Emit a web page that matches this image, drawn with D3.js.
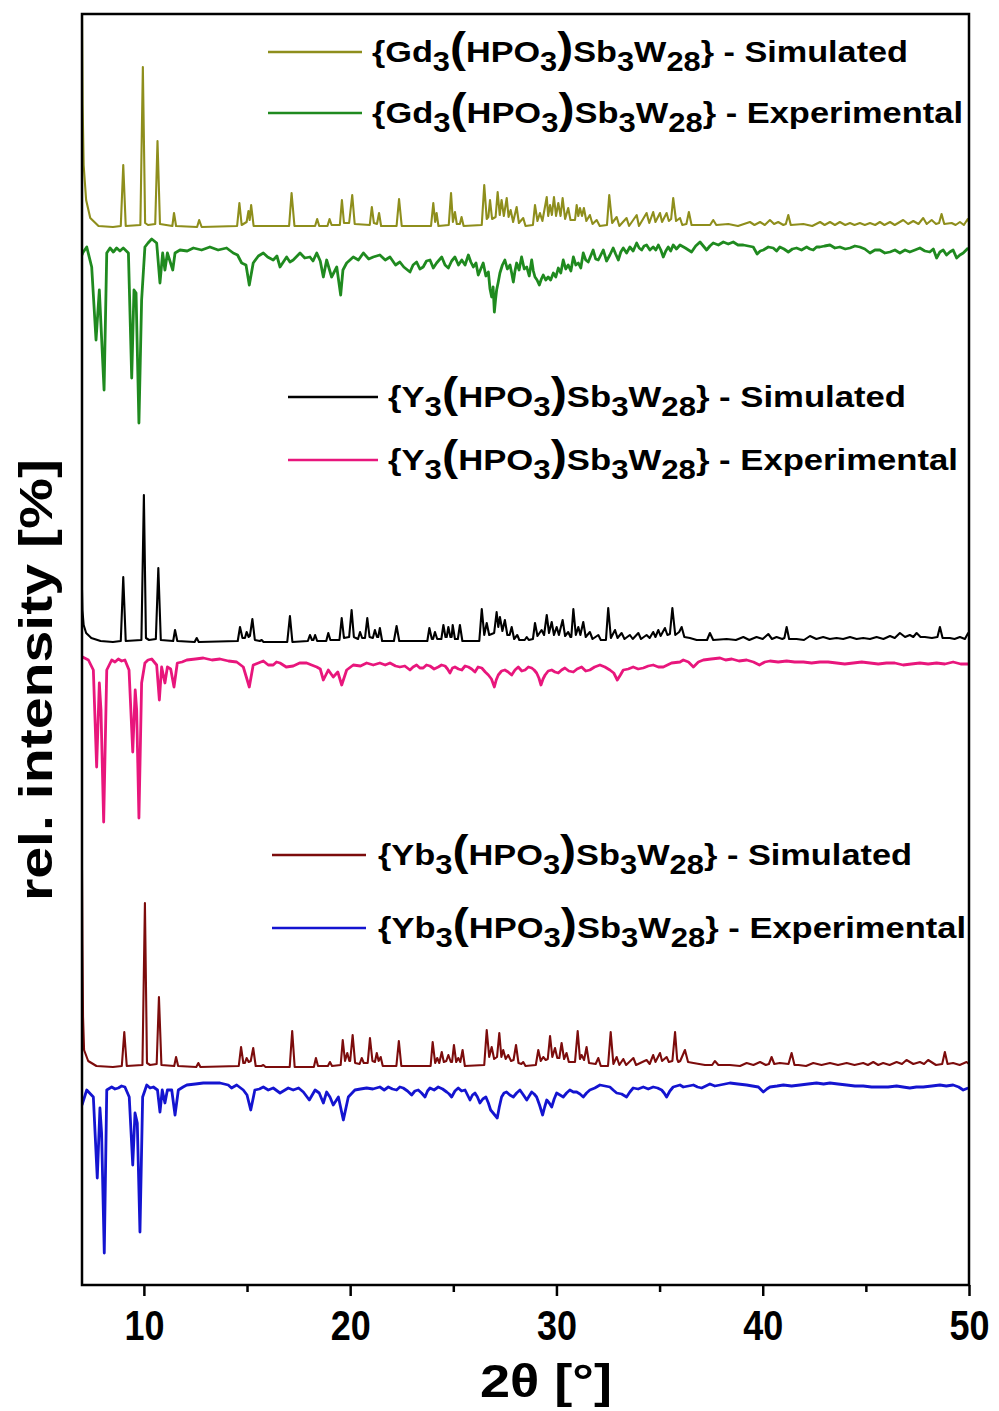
<!DOCTYPE html>
<html lang="en">
<head>
<meta charset="UTF-8">
<title>PXRD</title>
<style>
  body { margin: 0; background: #fff; }
  svg text { font-family: "Liberation Sans Narrow", "Liberation Sans", Arial, sans-serif; font-weight: bold; fill: #000; }
</style>
</head>
<body>
<div id="chart"></div>
<script src="https://cdnjs.cloudflare.com/ajax/libs/d3/7.8.5/d3.min.js"></script>
<script>
// [2theta, stacked rel. intensity]
const gdSim = [[7.0,127.1],[7.03,118],[7.08,112],[7.2,108.5],[7.4,106.7],[7.8,105.9],[8.5,105.8],
[8.88,105.9],[9.0,112.0],[9.12,105.9],[9.83,106.0],[9.95,121.8],[10.06,106.2],[10.2,106.0],[10.55,106.1],[10.66,114.4],[10.78,106.1],
[11.38,105.9],[11.46,107.2],[11.56,105.9],[12.58,105.8],[12.68,106.5],[12.8,105.8],
[14.52,105.9],[14.63,108.2],[14.74,106.0],[14.98,106.3],[15.07,107.4],[15.13,106.5],[15.2,108.0],[15.32,105.9],
[17.04,105.9],[17.16,109.2],[17.3,105.9],[18.3,105.9],[18.4,106.6],[18.5,105.9],[18.9,105.9],[19.0,106.6],[19.1,106.0],
[19.5,106.0],[19.6,108.5],[19.7,106.2],[19.95,106.2],[20.1,109.0],[20.22,106.1],
[20.95,106.0],[21.05,107.8],[21.15,106.2],[21.3,106.1],[21.4,107.2],[21.5,105.9],
[22.25,105.9],[22.37,108.6],[22.5,105.9],[23.92,105.9],[24.03,108.2],[24.12,106.3],[24.19,107.2],[24.28,105.9],
[24.78,106.0],[24.89,109.2],[24.98,106.3],[25.08,107.3],[25.17,106.1],[25.32,106.1],[25.4,106.8],[25.5,105.9],
[26.38,106.0],[26.5,110.0],[26.62,106.6],[26.7,106.8],[26.78,108.5],[26.88,106.6],[27.05,106.8],[27.15,109.3],[27.25,107.0],[27.34,108.5],[27.45,106.9],[27.59,108.7],[27.68,106.8],[27.78,107.5],[27.9,106.3],[28.07,107.8],[28.18,106.2],[28.39,106.7],[28.5,105.9],
[28.86,106.0],[28.96,108.0],[29.08,106.4],[29.2,107.2],[29.32,106.4],[29.53,108.8],[29.6,106.9],[29.69,108.0],[29.78,107.0],[29.88,108.8],[29.98,106.9],[30.09,108.2],[30.2,106.9],[30.3,108.7],[30.42,106.6],[30.57,107.7],[30.68,106.5],[30.9,106.5],[30.98,108.0],[31.06,106.9],[31.14,107.7],[31.24,106.9],[31.33,107.7],[31.45,106.4],[31.62,107.0],[31.75,106.1],[31.95,106.5],[32.1,105.9],
[32.45,106.0],[32.56,109.0],[32.7,106.2],[32.92,106.8],[33.05,105.9],[33.4,106.7],[33.52,105.9],[33.89,107.0],[34.0,105.9],[34.37,107.2],[34.5,106.2],[34.69,107.3],[34.8,106.3],[35.02,107.2],[35.12,106.3],[35.34,107.2],[35.45,106.4],[35.56,106.6],[35.66,108.7],[35.8,106.4],[35.99,106.7],[36.1,106.0],[36.3,106.1],[36.42,107.3],[36.55,106.0],[36.96,106.0],[37.45,106.0],[37.6,106.5],[37.75,106.0],
[38.33,106.1],[38.8,105.9],[39.38,106.3],[39.6,106.0],[39.87,106.3],[40.1,106.0],[40.35,106.5],[40.55,106.1],[40.75,106.3],[41.0,106.0],[41.12,106.1],[41.24,107.0],[41.36,106.0],[41.97,106.1],[42.4,105.9],[42.78,106.3],[43.0,106.0],[43.26,106.3],[43.5,106.0],[43.74,106.3],[44.0,106.0],[44.23,106.2],[44.45,106.0],[44.71,106.2],[44.95,106.0],[45.2,106.2],[45.45,106.0],[45.68,106.3],[45.9,106.0],[46.17,106.3],[46.4,106.0],[46.81,106.5],[47.05,106.1],[47.3,106.4],[47.55,106.1],[47.78,106.7],[47.95,106.1],[48.19,106.5],[48.4,106.1],[48.55,106.2],[48.67,107.1],[48.8,106.1],[49.16,106.2],[49.35,106.0],[49.56,106.3],[49.75,106.0],[49.94,106.6],[50.0,106.3]];

const gdExp = [[7.0,103.0],[7.03,103.2],[7.23,103.8],[7.47,101.8],[7.68,94.5],[7.84,99.5],[8.07,89.5],[8.2,103.2],[8.36,103.7],[8.52,103.3],[8.68,103.7],[8.84,103.4],[9.0,103.7],[9.25,103.2],[9.41,90.7],[9.52,99.5],[9.62,99.2],[9.76,86.2],[9.89,98.5],[10.05,103.8],[10.2,104.2],[10.38,104.6],[10.62,104.2],[10.78,100.2],[10.91,103.2],[11.02,101.5],[11.14,103.2],[11.4,101.5],[11.51,103.2],[11.75,103.5],[12.1,103.4],[12.4,103.7],[12.8,103.5],[13.2,103.8],[13.6,103.5],[14.01,103.7],[14.33,103.2],[14.54,103.0],[14.74,102.2],[14.95,102.0],[15.11,100.0],[15.3,102.2],[15.55,102.9],[15.79,103.2],[16.0,102.8],[16.27,102.5],[16.45,102.9],[16.6,101.8],[16.92,102.8],[17.08,102.3],[17.24,102.5],[17.57,103.2],[17.8,102.7],[18.05,102.8],[18.2,102.4],[18.38,103.2],[18.55,102.4],[18.7,100.8],[18.86,102.5],[19.1,100.8],[19.35,101.8],[19.54,99.0],[19.65,101.5],[19.83,102.2],[20.15,102.8],[20.4,102.5],[20.64,103.2],[20.9,102.6],[21.12,102.8],[21.44,103.0],[21.7,102.5],[21.93,102.8],[22.2,102.0],[22.41,102.3],[22.6,101.8],[22.9,101.3],[23.05,102.0],[23.22,102.3],[23.38,101.6],[23.54,101.8],[23.7,102.4],[23.87,102.5],[24.03,101.7],[24.19,102.2],[24.44,102.8],[24.6,102.0],[24.76,101.7],[24.92,102.4],[25.08,102.8],[25.25,102.0],[25.41,102.5],[25.57,102.0],[25.73,103.0],[25.85,102.3],[25.97,101.8],[26.1,102.2],[26.21,101.0],[26.33,101.6],[26.45,102.2],[26.58,100.9],[26.7,101.3],[26.78,99.6],[26.86,98.8],[26.93,99.8],[26.99,97.3],[27.05,98.6],[27.1,99.5],[27.18,100.3],[27.26,101.2],[27.38,102.0],[27.5,102.5],[27.62,101.6],[27.75,102.0],[27.83,101.2],[27.91,100.3],[27.99,101.4],[28.07,102.2],[28.19,101.5],[28.31,102.8],[28.44,101.6],[28.56,101.8],[28.68,100.9],[28.8,102.5],[28.88,101.4],[28.96,100.8],[29.06,100.5],[29.17,100.0],[29.27,100.6],[29.36,101.0],[29.48,100.5],[29.6,100.8],[29.72,100.5],[29.85,101.2],[29.97,100.8],[30.09,101.7],[30.21,101.2],[30.33,102.5],[30.45,101.6],[30.57,102.0],[30.7,101.4],[30.82,102.8],[30.94,102.0],[31.06,102.2],[31.18,101.7],[31.3,103.2],[31.42,102.5],[31.54,102.3],[31.66,102.9],[31.78,103.5],[31.9,102.6],[32.03,102.5],[32.15,103.0],[32.27,103.5],[32.43,102.4],[32.59,103.0],[32.75,103.7],[32.87,103.1],[33.0,102.5],[33.12,103.3],[33.24,103.7],[33.4,103.2],[33.56,103.8],[33.72,103.4],[33.89,104.2],[34.01,103.7],[34.13,103.5],[34.25,103.9],[34.37,104.0],[34.53,103.5],[34.69,103.8],[34.82,103.5],[34.94,104.0],[35.06,103.5],[35.18,102.8],[35.3,103.4],[35.42,103.8],[35.54,103.4],[35.66,104.0],[35.82,103.6],[35.99,104.0],[36.25,103.7],[36.55,103.3],[36.75,103.9],[36.96,104.3],[37.12,103.9],[37.28,103.5],[37.44,103.9],[37.6,104.2],[37.85,104.0],[38.09,104.3],[38.33,104.1],[38.57,104.3],[38.8,104.0],[39.06,104.0],[39.3,103.9],[39.54,103.8],[39.73,103.1],[39.88,103.4],[40.03,103.5],[40.27,103.8],[40.51,103.7],[40.67,103.4],[40.83,103.8],[41.03,103.6],[41.24,103.3],[41.44,103.6],[41.64,103.7],[41.88,103.5],[42.13,103.8],[42.29,103.6],[42.45,103.5],[42.61,103.8],[42.77,103.8],[43.0,103.9],[43.26,104.0],[43.5,103.7],[43.74,103.8],[44.0,103.6],[44.23,103.7],[44.47,103.9],[44.71,103.8],[44.95,103.6],[45.2,103.2],[45.44,103.5],[45.68,103.5],[45.92,103.2],[46.17,103.3],[46.41,103.5],[46.65,103.2],[46.9,103.5],[47.13,103.3],[47.38,103.5],[47.62,103.7],[47.86,103.4],[48.1,103.3],[48.27,103.6],[48.43,102.7],[48.59,103.3],[48.75,103.5],[48.91,103.0],[49.07,103.3],[49.23,103.5],[49.4,102.7],[49.56,103.0],[49.72,103.2],[49.96,103.7]];

const ySim = [[7.0,69.5],[7.02,67.5],[7.08,66.0],[7.2,65.2],[7.45,64.7],[7.9,64.4],[8.5,64.3],
[8.88,64.4],[9.0,70.8],[9.12,64.4],[9.88,64.5],[10.0,79.0],[10.1,64.7],[10.25,64.5],[10.58,64.6],[10.7,71.7],[10.82,64.5],
[11.42,64.4],[11.51,65.5],[11.62,64.4],[12.46,64.3],[12.56,64.7],[12.66,64.3],
[14.55,64.4],[14.66,65.8],[14.78,64.7],[14.9,64.7],[14.98,65.3],[15.08,64.8],[15.14,64.9],[15.26,66.6],[15.38,64.5],[15.62,64.4],[15.71,64.5],[15.8,64.3],
[16.95,64.3],[17.08,66.9],[17.2,64.3],[17.95,64.4],[18.05,65.0],[18.15,64.5],[18.22,64.5],[18.3,65.0],[18.4,64.4],
[18.84,64.4],[18.94,65.2],[19.04,64.5],[19.48,64.5],[19.59,66.7],[19.7,64.7],[19.95,64.8],[20.07,67.5],[20.18,64.8],[20.38,64.6],[20.48,65.3],[20.58,64.7],[20.72,64.7],[20.83,66.7],[20.94,64.8],[21.1,64.7],[21.2,65.5],[21.3,64.8],[21.36,64.8],[21.44,65.7],[21.55,64.4],
[22.12,64.4],[22.25,65.9],[22.38,64.4],[23.74,64.4],[23.84,65.7],[23.96,64.6],[24.02,64.6],[24.11,65.3],[24.22,64.6],[24.42,64.6],[24.52,66.0],[24.62,64.8],[24.68,64.8],[24.76,65.8],[24.86,64.8],[24.92,64.8],[24.97,66.0],[25.08,64.6],[25.22,64.6],[25.32,66.0],[25.44,64.4],
[26.26,64.4],[26.38,67.6],[26.5,65.0],[26.62,66.2],[26.74,65.0],[26.98,65.2],[27.1,67.3],[27.18,65.8],[27.26,66.8],[27.38,65.4],[27.5,66.5],[27.62,65.0],[27.73,65.0],[27.83,65.8],[27.95,64.6],[28.1,65.0],[28.2,64.5],[28.46,64.5],[28.56,64.8],[28.66,64.5],
[28.86,64.6],[28.96,66.2],[29.08,64.9],[29.28,65.5],[29.4,65.0],[29.53,67.0],[29.64,65.2],[29.77,66.3],[29.88,65.0],[30.01,65.8],[30.12,65.0],[30.3,66.5],[30.42,64.9],[30.57,65.3],[30.68,64.8],[30.72,64.8],[30.82,67.6],[30.94,65.0],[31.06,65.8],[31.16,65.0],[31.3,66.3],[31.42,64.8],[31.62,65.3],[31.75,64.6],[32.03,65.0],[32.15,64.5],
[32.4,64.5],[32.51,67.7],[32.64,64.7],[32.84,65.5],[32.96,64.7],[33.16,65.2],[33.3,64.6],[33.56,65.0],[33.7,64.6],[33.97,65.2],[34.1,64.6],[34.37,65.0],[34.52,64.7],[34.69,65.3],[34.8,64.8],[34.94,65.5],[35.05,64.9],[35.26,65.7],[35.38,65.0],[35.5,65.1],[35.62,67.7],[35.76,65.0],[35.95,65.3],[36.07,65.8],[36.2,64.8],[36.47,64.7],[36.8,64.5],
[37.3,64.5],[37.44,65.2],[37.6,64.5],[38.25,64.6],[38.7,64.5],[39.06,64.8],[39.35,64.5],[39.7,64.8],[40.0,64.6],[40.27,65.1],[40.45,64.6],[40.67,64.8],[40.95,64.6],[41.05,64.7],[41.16,65.8],[41.28,64.6],[41.64,64.6],[42.0,64.5],[42.29,64.9],[42.6,64.6],[42.93,64.8],[43.25,64.6],[43.58,64.7],[43.9,64.6],[44.23,64.8],[44.55,64.6],[44.87,64.7],[45.2,64.6],[45.52,64.8],[45.85,64.6],[46.17,64.9],[46.4,64.7],[46.65,65.2],[46.9,64.8],[47.13,65.0],[47.3,64.8],[47.46,65.2],[47.65,64.8],[47.86,64.8],[48.2,64.7],[48.47,64.8],[48.59,65.8],[48.72,64.7],[49.07,64.7],[49.3,64.6],[49.56,64.8],[49.8,64.6],[49.96,65.2],[50.0,65.0]];

const yExp = [[7.0,62.7],[7.03,62.8],[7.31,62.5],[7.55,61.5],[7.71,51.8],[7.84,60.2],[7.92,57.5],[8.05,46.3],[8.2,61.5],[8.44,62.5],[8.6,62.3],[8.76,62.6],[8.92,62.4],[9.08,62.5],[9.28,61.5],[9.46,53.3],[9.58,59.5],[9.65,57.5],[9.76,46.7],[9.89,60.2],[10.05,62.2],[10.2,62.5],[10.38,62.6],[10.62,62.0],[10.75,58.5],[10.86,61.8],[11.02,60.2],[11.14,61.8],[11.3,61.6],[11.46,59.8],[11.62,62.2],[11.85,62.3],[12.08,62.5],[12.5,62.6],[12.88,62.7],[13.3,62.5],[13.69,62.6],[14.1,62.4],[14.5,62.3],[14.82,61.8],[15.11,59.8],[15.3,62.0],[15.55,62.2],[15.79,62.4],[16.03,62.0],[16.27,62.0],[16.43,62.3],[16.6,62.2],[16.9,61.8],[17.24,61.9],[17.55,62.2],[17.89,62.2],[18.13,62.0],[18.38,61.8],[18.55,61.6],[18.7,60.5],[18.94,61.5],[19.18,60.8],[19.4,61.3],[19.59,60.0],[19.83,61.5],[20.15,62.0],[20.5,61.9],[20.8,62.2],[21.12,62.0],[21.44,62.2],[21.7,62.0],[21.93,62.2],[22.2,61.9],[22.41,61.8],[22.65,61.9],[22.9,61.5],[23.05,61.8],[23.22,62.0],[23.38,61.7],[23.54,61.7],[23.7,62.0],[23.87,61.9],[24.07,61.6],[24.27,61.8],[24.43,62.0],[24.6,61.9],[24.72,61.6],[24.84,61.2],[24.96,61.7],[25.08,61.8],[25.25,61.6],[25.41,61.5],[25.57,61.9],[25.73,61.8],[25.89,61.6],[26.05,61.3],[26.2,61.8],[26.38,61.7],[26.55,61.3],[26.7,61.0],[26.85,60.6],[26.99,59.8],[27.08,60.5],[27.18,61.0],[27.34,61.4],[27.5,61.5],[27.66,61.3],[27.83,61.0],[27.99,61.5],[28.15,61.8],[28.32,61.4],[28.48,61.5],[28.64,61.8],[28.8,61.7],[28.92,61.5],[29.04,61.2],[29.15,60.7],[29.25,60.0],[29.35,60.6],[29.45,61.0],[29.6,61.4],[29.77,61.5],[29.93,61.3],[30.09,61.2],[30.25,61.5],[30.41,61.7],[30.6,61.4],[30.82,61.3],[31.0,61.6],[31.22,61.8],[31.42,61.4],[31.62,61.5],[31.85,61.8],[32.11,62.0],[32.35,61.8],[32.59,61.5],[32.78,61.2],[32.95,60.5],[33.1,61.0],[33.24,61.5],[33.48,61.6],[33.72,61.8],[33.96,61.6],[34.21,61.7],[34.45,61.9],[34.69,62.0],[34.94,61.8],[35.18,61.8],[35.38,62.0],[35.58,62.2],[35.99,62.3],[36.15,62.5],[36.4,62.3],[36.64,61.8],[36.88,62.3],[37.12,62.5],[37.5,62.6],[37.93,62.7],[38.2,62.5],[38.5,62.6],[38.85,62.4],[39.22,62.5],[39.55,62.3],[39.84,62.0],[40.1,62.3],[40.35,62.4],[40.75,62.3],[41.16,62.4],[41.55,62.3],[41.97,62.3],[42.37,62.2],[42.77,62.3],[43.17,62.3],[43.58,62.2],[43.98,62.1],[44.39,62.2],[44.8,62.3],[45.2,62.2],[45.6,62.1],[46.0,62.2],[46.4,62.2],[46.81,62.0],[47.2,62.1],[47.62,62.2],[48.02,62.1],[48.43,62.2],[48.83,62.1],[49.23,62.3],[49.6,62.1],[49.96,62.1]];

const ybSim = [[7.0,41.5],[7.02,34],[7.05,26.8],[7.1,23.5],[7.3,22.4],[7.7,21.9],[8.5,21.8],
[8.93,21.9],[9.05,25.3],[9.17,21.9],[9.93,22.0],[10.05,38.2],[10.15,22.2],[10.3,22.0],[10.62,22.1],[10.73,28.8],[10.85,22.0],
[11.47,21.9],[11.56,22.8],[11.66,21.9],[12.54,21.8],[12.64,22.2],[12.74,21.8],
[14.6,21.9],[14.71,23.8],[14.82,22.2],[14.9,22.2],[14.98,22.7],[15.08,22.3],[15.18,22.4],[15.3,23.7],[15.42,21.9],[15.7,21.9],[15.79,22.0],[15.9,21.8],
[17.07,21.8],[17.19,25.4],[17.31,21.8],[18.24,21.8],[18.34,22.7],[18.44,21.9],[18.92,21.9],[19.02,22.3],[19.12,21.9],
[19.54,22.0],[19.64,24.5],[19.75,22.4],[19.86,23.2],[19.96,22.4],[20.0,22.4],[20.12,25.0],[20.24,22.2],[20.46,22.1],[20.56,22.7],[20.66,22.2],[20.85,22.2],[20.96,24.7],[21.08,22.4],[21.2,22.3],[21.29,23.2],[21.38,22.4],[21.48,22.8],[21.58,21.9],
[22.24,21.9],[22.36,24.4],[22.48,21.9],[23.9,21.9],[24.0,24.3],[24.12,22.2],[24.22,22.7],[24.32,22.2],[24.44,23.3],[24.54,22.3],[24.66,22.4],[24.76,23.0],[24.88,22.3],[24.94,22.3],[25.03,24.0],[25.14,22.3],[25.24,22.7],[25.34,22.3],[25.45,23.5],[25.56,21.9],
[26.5,22.0],[26.62,25.5],[26.74,22.8],[26.86,23.8],[26.98,22.6],[27.12,22.8],[27.23,25.2],[27.33,22.8],[27.42,23.5],[27.54,22.6],[27.66,23.0],[27.8,22.4],[27.92,22.5],[28.04,24.0],[28.16,22.2],[28.3,22.1],[28.39,22.3],[28.5,21.9],
[29.0,22.0],[29.12,23.5],[29.24,22.4],[29.36,22.8],[29.48,22.5],[29.58,22.6],[29.69,24.9],[29.8,22.8],[29.93,23.7],[30.04,22.7],[30.14,22.7],[30.25,24.2],[30.37,22.6],[30.49,23.2],[30.6,22.3],[30.9,22.3],[31.03,25.4],[31.14,22.6],[31.22,23.0],[31.34,22.5],[31.46,23.8],[31.58,22.2],[31.9,22.1],[32.03,22.7],[32.15,21.9],
[32.5,21.9],[32.63,25.3],[32.76,22.1],[32.92,22.8],[33.05,22.0],[33.24,22.6],[33.38,22.0],[33.73,22.7],[33.86,22.0],[34.37,22.5],[34.52,22.1],[34.69,23.0],[34.8,22.3],[35.02,23.2],[35.12,22.4],[35.34,22.8],[35.45,22.3],[35.62,22.4],[35.75,25.3],[35.85,22.6],[35.91,22.3],[36.0,22.4],[36.23,23.5],[36.38,22.3],[36.64,22.2],[37.2,22.0],
[37.55,22.0],[37.68,22.4],[37.85,22.0],[38.41,22.0],[38.9,21.9],[39.22,22.2],[39.55,22.0],[39.87,22.3],[40.15,22.0],[40.3,22.1],[40.43,22.8],[40.56,22.1],[40.83,22.2],[41.25,22.1],[41.4,23.2],[41.54,22.0],[41.73,22.0],[42.1,21.9],[42.45,22.2],[42.85,22.0],[43.26,22.2],[43.65,22.0],[44.07,22.2],[44.45,22.0],[44.87,22.2],[45.1,22.0],[45.36,22.3],[45.6,22.0],[45.84,22.2],[46.15,22.0],[46.49,22.3],[46.75,22.1],[46.97,22.5],[47.3,22.1],[47.62,22.3],[47.82,22.1],[48.02,22.5],[48.4,22.0],[48.7,22.1],[48.83,23.3],[48.96,22.1],[49.23,22.2],[49.55,22.0],[49.88,22.3],[50.0,22.1]];

const ybExp = [[7.0,18.0],[7.03,18.2],[7.23,19.5],[7.55,18.8],[7.74,10.7],[7.87,17.7],[7.95,15.2],[8.08,3.2],[8.2,19.5],[8.44,19.8],[8.6,19.6],[8.76,19.7],[8.92,19.9],[9.08,19.8],[9.29,18.8],[9.46,12.0],[9.57,17.2],[9.68,16.2],[9.81,5.3],[9.94,18.8],[10.14,20.0],[10.3,19.7],[10.46,19.8],[10.66,19.5],[10.78,17.3],[10.89,19.5],[11.02,18.2],[11.14,19.5],[11.35,19.5],[11.51,17.0],[11.67,19.5],[11.9,19.8],[12.08,20.0],[12.5,20.1],[12.88,20.2],[13.3,20.2],[13.69,20.2],[14.09,20.0],[14.25,19.7],[14.5,20.0],[14.82,19.5],[15.0,19.0],[15.18,17.5],[15.38,19.5],[15.6,19.6],[15.79,19.8],[16.03,19.5],[16.27,19.7],[16.6,19.2],[17.0,19.7],[17.24,19.5],[17.5,19.7],[17.73,19.3],[18.02,18.5],[18.3,19.5],[18.5,19.2],[18.7,18.2],[18.86,19.3],[19.02,18.8],[19.18,18.0],[19.43,18.8],[19.67,16.5],[19.91,18.8],[20.23,19.5],[20.5,19.6],[20.8,19.7],[21.1,19.6],[21.44,19.8],[21.65,19.5],[21.85,19.8],[22.05,19.6],[22.25,19.5],[22.41,19.8],[22.57,19.7],[22.78,19.4],[22.98,19.0],[23.14,19.4],[23.3,19.5],[23.46,19.2],[23.63,18.8],[23.75,19.4],[23.87,19.7],[24.07,19.5],[24.27,19.8],[24.48,19.6],[24.68,19.3],[24.8,19.1],[24.92,18.8],[25.08,19.4],[25.24,19.7],[25.4,19.4],[25.57,19.5],[25.69,19.0],[25.81,18.5],[25.93,19.0],[26.05,19.2],[26.17,18.8],[26.29,18.2],[26.43,18.6],[26.58,18.8],[26.7,18.2],[26.81,17.5],[26.97,17.1],[27.13,16.7],[27.23,17.8],[27.34,18.8],[27.46,19.2],[27.58,19.3],[27.74,19.0],[27.91,18.8],[28.07,19.2],[28.23,19.5],[28.4,19.0],[28.56,18.5],[28.68,18.9],[28.8,19.3],[28.92,19.1],[29.04,18.8],[29.18,18.0],[29.33,17.0],[29.43,17.8],[29.53,18.5],[29.65,18.2],[29.77,17.8],[29.89,18.6],[30.01,19.2],[30.17,19.0],[30.33,18.8],[30.49,19.2],[30.65,19.5],[30.82,19.3],[30.98,19.3],[31.14,19.1],[31.3,18.8],[31.46,19.2],[31.62,19.5],[31.86,19.7],[32.11,20.0],[32.35,19.9],[32.59,19.8],[32.75,19.5],[32.92,19.2],[33.16,19.1],[33.4,18.8],[33.56,19.3],[33.72,19.7],[33.96,19.6],[34.21,19.8],[34.45,19.6],[34.69,19.8],[34.9,19.7],[35.1,19.5],[35.22,19.2],[35.34,18.8],[35.5,19.4],[35.66,19.8],[35.99,20.0],[36.15,19.8],[36.4,19.9],[36.64,20.0],[36.84,19.8],[37.04,19.7],[37.24,19.9],[37.44,20.1],[37.68,19.9],[37.93,20.0],[38.17,20.1],[38.41,20.2],[38.8,20.1],[39.22,20.0],[39.5,19.9],[39.79,19.8],[40.03,19.3],[40.2,19.6],[40.35,19.8],[40.7,19.9],[41.0,20.0],[41.4,19.9],[41.81,20.0],[42.2,20.1],[42.61,20.2],[42.95,20.1],[43.26,20.2],[43.65,20.1],[44.07,20.0],[44.47,19.9],[44.87,19.9],[45.28,19.8],[45.68,19.8],[46.08,19.8],[46.49,19.9],[46.8,19.8],[47.13,19.7],[47.45,19.8],[47.78,19.8],[48.2,19.9],[48.59,20.0],[48.9,19.9],[49.23,20.0],[49.5,19.8],[49.72,19.5],[49.96,19.7]];

const metals = ["Gd", "Gd", "Y", "Y", "Yb", "Yb"];
const kinds = ["Simulated", "Experimental", "Simulated", "Experimental", "Simulated", "Experimental"];
const colors = ["#8e8e1c", "#1f8a1f", "#000000", "#e8167c", "#7c0c0c", "#1414d0"];
const seriesData = [gdSim, gdExp, ySim, yExp, ybSim, ybExp];
const xTicks = [10, 20, 30, 40, 50];
const xMinor = [15, 25, 35, 45];

const W = 999, H = 1411;
const m = {left: 82, right: 30, top: 14, bottom: 126};

const svg = d3.select("#chart").append("svg")
  .attr("width", W).attr("height", H);

const x = d3.scaleLinear().domain([7, 50]).range([m.left, W - m.right]);
const y = d3.scaleLinear().domain([0, 127.1]).range([H - m.bottom, m.top]);

svg.append("clipPath").attr("id", "plot")
  .append("rect")
  .attr("x", m.left).attr("y", m.top)
  .attr("width", W - m.left - m.right).attr("height", H - m.top - m.bottom);

const line = d3.line().x(d => x(d[0])).y(d => y(d[1]));

svg.append("g").attr("clip-path", "url(#plot)")
  .selectAll("path")
  .data(seriesData)
  .join("path")
  .attr("fill", "none")
  .attr("stroke", (d, i) => colors[i])
  .attr("stroke-width", (d, i) => i % 2 ? 2.8 : 2.1)
  .attr("stroke-linejoin", "round")
  .attr("d", line);

// frame
svg.append("rect")
  .attr("x", m.left).attr("y", m.top)
  .attr("width", W - m.left - m.right).attr("height", H - m.top - m.bottom)
  .attr("fill", "none").attr("stroke", "#000").attr("stroke-width", 2.5);

const xAxis = svg.append("g")
  .attr("transform", `translate(0,${H - m.bottom})`)
  .call(d3.axisBottom(x).tickValues(xTicks).tickSize(11).tickPadding(14));
xAxis.select(".domain").remove();
xAxis.selectAll("line").attr("stroke-width", 2.5);
xAxis.selectAll("text")
  .attr("font-size", 42)
  .attr("font-family", null)
  .attr("textLength", 40).attr("lengthAdjust", "spacingAndGlyphs")
  .attr("dy", "0.71em");

const xMinorAxis = svg.append("g")
  .attr("transform", `translate(0,${H - m.bottom})`)
  .call(d3.axisBottom(x).tickValues(xMinor).tickSize(7).tickFormat(""));
xMinorAxis.select(".domain").remove();
xMinorAxis.selectAll("line").attr("stroke-width", 2.5);

svg.append("text")
  .attr("x", 546).attr("y", 1397)
  .attr("text-anchor", "middle")
  .attr("font-size", 46)
  .attr("textLength", 132).attr("lengthAdjust", "spacingAndGlyphs")
  .text("2θ [°]");

svg.append("text")
  .attr("transform", "translate(52,680) rotate(-90)")
  .attr("text-anchor", "middle")
  .attr("font-size", 46)
  .attr("textLength", 442).attr("lengthAdjust", "spacingAndGlyphs")
  .text("rel. intensity [%]");

// legends
const legendPos = [
  {x1: 268, x2: 362, y: 52, tx: 372, w: 536},
  {x1: 268, x2: 362, y: 113, tx: 372, w: 591},
  {x1: 288, x2: 378, y: 397, tx: 388, w: 518},
  {x1: 288, x2: 378, y: 460, tx: 388, w: 570},
  {x1: 272, x2: 366, y: 855, tx: 378, w: 534},
  {x1: 272, x2: 366, y: 928, tx: 378, w: 588}
];

legendPos.forEach((p, i) => {
  const g = svg.append("g");
  g.append("line")
    .attr("x1", p.x1).attr("x2", p.x2).attr("y1", p.y).attr("y2", p.y)
    .attr("stroke", colors[i]).attr("stroke-width", 2.5);
  const t = g.append("text")
    .attr("x", p.tx).attr("y", p.y + 10)
    .attr("font-size", 30)
    .attr("textLength", p.w).attr("lengthAdjust", "spacingAndGlyphs");
  // n = normal, s = subscript, b = big parenthesis
  const parts = [["{" + metals[i], "n"], ["3", "s"], ["(", "b"], ["HPO", "n"], ["3", "s"], [")", "b"],
                 ["Sb", "n"], ["3", "s"], ["W", "n"], ["28", "s"], ["} - " + kinds[i], "n"]];
  let low = false;
  parts.forEach(([s, k]) => {
    const ts = t.append("tspan").text(s);
    if (k === "s") {
      ts.attr("font-size", 27).attr("dy", low ? 0 : 9);
      low = true;
    } else {
      if (low) ts.attr("dy", -9);
      low = false;
      if (k === "b") ts.attr("font-size", 42);
    }
  });
});
</script>
</body>
</html>
